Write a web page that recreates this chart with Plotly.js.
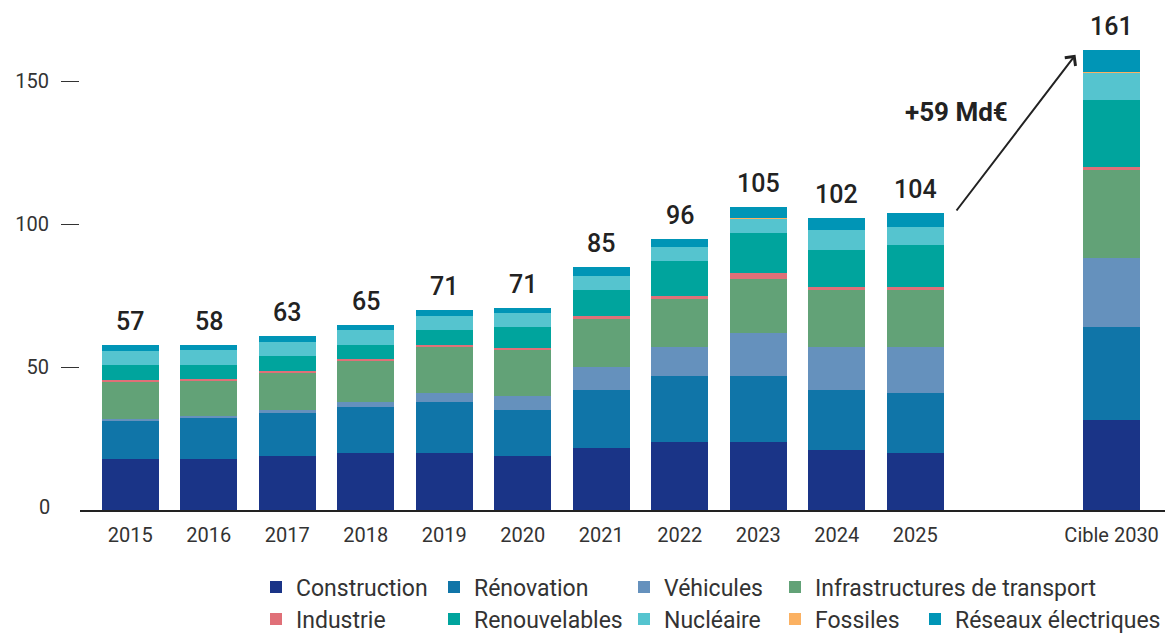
<!DOCTYPE html>
<html>
<head>
<meta charset="utf-8">
<script src="https://cdn.plot.ly/plotly-3.0.1.min.js"></script>
<style>
  html, body { margin: 0; padding: 0; background: #fff; }
  #chart { width: 1167px; height: 635px; }
</style>
</head>
<body>
<div id="chart"></div>
<script>
// valeurs (Md€)
var categories = ["2015", "2016", "2017", "2018", "2019", "2020", "2021", "2022", "2023", "2024", "2025", "Cible 2030"];
var totals = [57, 58, 63, 65, 71, 71, 85, 96, 105, 102, 104, 161];

var construction  = [17.8, 17.8, 18.9, 19.9, 19.9, 18.9, 21.7, 23.8, 23.8, 21.0, 19.9, 31.5];
var renovation    = [13.3, 14.4, 15.0, 16.1, 17.9, 16.1, 20.3, 23.1, 23.1, 21.0, 21.0, 32.5];
var vehicules     = [0.6, 0.7, 1.2, 1.8, 3.0, 5.0, 8.0, 10.1, 15.0, 15.0, 16.1, 24.1];
var infra         = [13.2, 12.2, 12.9, 14.2, 16.2, 16.0, 16.8, 16.8, 18.9, 19.9, 19.9, 30.8];
var industrie     = [0.6, 0.7, 0.7, 0.7, 0.7, 0.7, 1.0, 1.0, 2.1, 1.1, 1.1, 1.0];
var renouvelables = [5.2, 4.9, 5.1, 5.0, 5.2, 7.3, 9.1, 12.3, 14.0, 12.9, 14.7, 23.5];
var nucleaire     = [4.9, 5.2, 4.9, 5.2, 4.9, 4.9, 4.9, 4.9, 4.8, 7.0, 6.3, 9.4];
var fossiles      = [0, 0, 0, 0, 0, 0, 0, 0, 0.4, 0, 0, 0.4];
var reseaux       = [2.1, 1.8, 2.1, 1.8, 2.1, 1.7, 3.2, 2.8, 3.8, 4.2, 4.8, 7.7];

var seriesNames = ["Construction", "Rénovation", "Véhicules", "Infrastructures de transport",
  "Industrie", "Renouvelables", "Nucléaire", "Fossiles", "Réseaux électriques"];
var seriesValues = [construction, renovation, vehicules, infra, industrie, renouvelables, nucleaire, fossiles, reseaux];
var colors = ["#1a3487", "#1075a8", "#6591bd", "#62a277", "#e07078", "#00a49d", "#55c4cf", "#fbb162", "#0095b6"];

// la cible 2030 est décalée à droite
var xPos = categories.map(function(c, i) { return i < 11 ? i : 12.5; });

// legend grid (pixels): column of each entry, row of each entry
var legCols = [256, 434, 624, 775, 915];
var legCol = [0, 1, 2, 3, 0, 1, 2, 3, 4];
var legRow = [0, 0, 0, 0, 1, 1, 1, 1, 1];
var legRowY = [587, 619];

var W = 1167, H = 635;
var plotL = 80, plotR = 1165;

var data = seriesNames.map(function(name, k) {
  return {
    type: "bar",
    name: name,
    x: xPos,
    y: seriesValues[k],
    width: 0.726,
    marker: {color: colors[k], line: {width: 0}},
    legend: k === 0 ? "legend" : "legend" + (k + 1),
    hoverinfo: "name+y"
  };
});

var stackTop = xPos.map(function(x, i) {
  return seriesValues.reduce(function(s, arr) { return s + arr[i]; }, 0);
});

var annotations = totals.map(function(t, i) {
  return {
    x: xPos[i], y: stackTop[i], xref: "x", yref: "y",
    text: String(t), showarrow: false, yanchor: "bottom", yshift: 7,
    font: {family: "Roboto", size: 25, color: "#222", weight: 500}
  };
});

// zéro de l'axe
annotations.push({
  x: (52 - plotL) / (plotR - plotL), xref: "paper", xanchor: "right",
  y: 0, yref: "y", yanchor: "middle", yshift: 3,
  text: "0", showarrow: false,
  font: {family: "Roboto", size: 20, color: "#333"}
});

// flèche vers la cible
annotations.push({
  x: 12.04, y: 159.3, xref: "x", yref: "y",
  ax: 10.51, ay: 104.3, axref: "x", ayref: "y",
  text: "", showarrow: true, arrowhead: 4, arrowsize: 1.3, arrowwidth: 2, arrowcolor: "#222"
});
annotations.push({
  x: 10.53, y: 139.3, xref: "x", yref: "y",
  text: "+59 Md€", showarrow: false,
  font: {family: "Roboto", size: 26, color: "#222", weight: 700}
});

var layout = {
  width: W,
  height: H,
  margin: {l: plotL, r: W - plotR, t: 10, b: 125},
  paper_bgcolor: "#fff",
  plot_bgcolor: "#fff",
  barmode: "stack",
  bargap: 0,
  font: {family: "Roboto", size: 20, color: "#333"},
  xaxis: {
    range: [-0.64, 13.18],
    tickvals: xPos,
    ticktext: categories,
    showgrid: false,
    zeroline: false,
    showline: true,
    linecolor: "#222",
    linewidth: 2,
    ticks: "",
    ticklabelstandoff: 6,
    tickfont: {family: "Roboto", size: 20, color: "#333"},
    fixedrange: true
  },
  yaxis: {
    range: [0, 175],
    tickvals: [50, 100, 150],
    showgrid: false,
    zeroline: false,
    showline: false,
    ticks: "outside",
    ticklen: 18,
    tickwidth: 1,
    tickcolor: "#333",
    ticklabelstandoff: 8,
    tickfont: {family: "Roboto", size: 20, color: "#333"},
    fixedrange: true
  },
  annotations: annotations,
  showlegend: true
};

seriesNames.forEach(function(name, k) {
  var key = k === 0 ? "legend" : "legend" + (k + 1);
  layout[key] = {
    xref: "container",
    yref: "container",
    x: legCols[legCol[k]] / W,
    y: (H - legRowY[legRow[k]]) / H,
    xanchor: "left",
    yanchor: "middle",
    orientation: "h",
    bgcolor: "rgba(0,0,0,0)",
    font: {family: "Roboto", size: 23, color: "#333"}
  };
});

Plotly.newPlot("chart", data, layout, {displayModeBar: false, staticPlot: true});
</script>
</body>
</html>
